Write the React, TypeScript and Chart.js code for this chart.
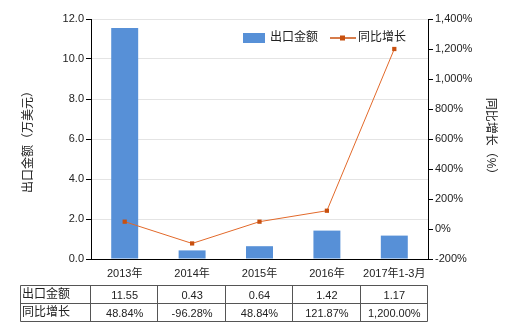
import React, { useEffect, useRef } from "react";
import { Chart, registerables } from "chart.js";

Chart.register(...registerables);

const categories = ["2013年", "2014年", "2015年", "2016年", "2017年1-3月"];
const exportValues = [11.55, 0.43, 0.64, 1.42, 1.17];
const growthValues = [48.84, -96.28, 48.84, 121.87, 1200.0];
const exportLabels = ["11.55", "0.43", "0.64", "1.42", "1.17"];
const growthLabels = ["48.84%", "-96.28%", "48.84%", "121.87%", "1,200.00%"];
const seriesNames = ["出口金额", "同比增长"];
const leftTitle = "出口金额（万美元）";
const rightTitle = "同比增长（%）";

const FONT = '"Liberation Sans", "Noto Sans CJK SC", sans-serif';
const BAR_COLOR = "#5790d7";
const LINE_COLOR = "#e2692a";
const MARKER_COLOR = "#c8500f";

const overlay = {
  id: "overlay",
  afterDraw(chart: any) {
    const ctx = chart.ctx as CanvasRenderingContext2D;
    const area = chart.chartArea;
    const xs = chart.scales.x;
    const catW = (area.right - area.left) / categories.length;
    ctx.save();
    // axis titles
    ctx.fillStyle = "#222";
    ctx.font = `12px ${FONT}`;
    ctx.textAlign = "center";
    ctx.textBaseline = "middle";
    const cy = (area.top + area.bottom) / 2;
    ctx.save();
    ctx.translate(29, cy);
    ctx.rotate(-Math.PI / 2);
    ctx.fillText(leftTitle, 0, 0);
    ctx.restore();
    ctx.save();
    ctx.translate(490, cy);
    ctx.rotate(Math.PI / 2);
    ctx.fillText(rightTitle, 0, 0);
    ctx.restore();

    // legend
    ctx.font = `12px ${FONT}`;
    ctx.textAlign = "left";
    ctx.fillStyle = BAR_COLOR;
    ctx.fillRect(243, 33, 22, 10);
    ctx.fillStyle = "#222";
    ctx.fillText(seriesNames[0], 270, 38);
    ctx.strokeStyle = MARKER_COLOR;
    ctx.lineWidth = 1.5;
    ctx.beginPath();
    ctx.moveTo(330, 38);
    ctx.lineTo(356, 38);
    ctx.stroke();
    ctx.fillStyle = MARKER_COLOR;
    ctx.fillRect(340, 35.5, 5, 5);
    ctx.fillStyle = "#222";
    ctx.fillText(seriesNames[1], 358, 38);

    // table
    const top = 285.5;
    const rowH = 18;
    const tableLeft = 20.5;
    const tableRight = Math.round(area.right) - 0.5;
    ctx.strokeStyle = "#555";
    ctx.lineWidth = 1;
    ctx.beginPath();
    for (let r = 0; r <= 2; r++) {
      ctx.moveTo(tableLeft, top + r * rowH);
      ctx.lineTo(tableRight, top + r * rowH);
    }
    ctx.moveTo(tableLeft, top);
    ctx.lineTo(tableLeft, top + 2 * rowH);
    for (let i = 0; i <= categories.length; i++) {
      const x = Math.round(area.left + i * catW) - 0.5;
      ctx.moveTo(x, top);
      ctx.lineTo(x, top + 2 * rowH);
    }
    ctx.stroke();
    ctx.fillStyle = "#222";
    ctx.font = `12px ${FONT}`;
    ctx.textAlign = "left";
    ctx.fillText(seriesNames[0], 22, top + rowH / 2);
    ctx.fillText(seriesNames[1], 22, top + rowH * 1.5);
    ctx.font = `11px ${FONT}`;
    ctx.textAlign = "center";
    for (let i = 0; i < categories.length; i++) {
      const x = xs.getPixelForValue(i);
      ctx.fillText(exportLabels[i], x, top + rowH / 2 + 1);
      ctx.fillText(growthLabels[i], x, top + rowH * 1.5 + 1);
    }
    ctx.restore();
  },
};

export default function App() {
  const ref = useRef<HTMLCanvasElement | null>(null);
  useEffect(() => {
    if (!ref.current) return;
    const chart = new Chart(ref.current, {
      type: "bar",
      data: {
        labels: categories,
        datasets: [
          {
            type: "line",
            label: seriesNames[1],
            data: growthValues,
            yAxisID: "y1",
            borderColor: LINE_COLOR,
            backgroundColor: MARKER_COLOR,
            borderWidth: 1,
            pointStyle: "rect",
            pointRadius: 3,
            pointBorderWidth: 0,
            tension: 0,
            order: 0,
          },
          {
            type: "bar",
            label: seriesNames[0],
            data: exportValues,
            yAxisID: "y",
            backgroundColor: BAR_COLOR,
            barPercentage: 0.4,
            categoryPercentage: 1,
            order: 1,
          },
        ],
      },
      options: {
        animation: false,
        responsive: false,
        devicePixelRatio: 1,
        layout: { padding: { top: 19, left: 0, right: 0, bottom: 0 } },
        plugins: { legend: { display: false }, tooltip: { enabled: false } },
        scales: {
          x: {
            grid: { display: false, drawTicks: false },
            border: { color: "#000" },
            ticks: { color: "#222", font: { family: FONT, size: 11 }, padding: 8, maxRotation: 0 },
            afterFit: (s: any) => { s.height = 71; },
          },
          y: {
            position: "left",
            min: 0,
            max: 12,
            ticks: {
              stepSize: 2,
              color: "#222",
              font: { family: FONT, size: 11 },
              padding: 2,
              callback: (v: any) => Number(v).toFixed(1),
            },
            grid: { color: "#e4e4e4", tickColor: "#000", tickLength: 5 },
            border: { color: "#000" },
            afterFit: (s: any) => { s.width = 91; },
          },
          y1: {
            position: "right",
            min: -200,
            max: 1400,
            ticks: {
              stepSize: 200,
              color: "#222",
              font: { family: FONT, size: 11 },
              padding: 2,
              callback: (v: any) => Number(v).toLocaleString("en-US") + "%",
            },
            grid: { drawOnChartArea: false, color: "#000", tickColor: "#000", tickLength: 5 },
            border: { color: "#000" },
            afterFit: (s: any) => { s.width = 92; },
          },
        },
      },
      plugins: [overlay],
    });
    return () => chart.destroy();
  }, []);
  return (
    <div style={{ position: "fixed", left: 0, top: 0, width: 520, height: 330, background: "#fff" }}>
      <canvas ref={ref} width={520} height={330} style={{ width: 520, height: 330 }} />
    </div>
  );
}
